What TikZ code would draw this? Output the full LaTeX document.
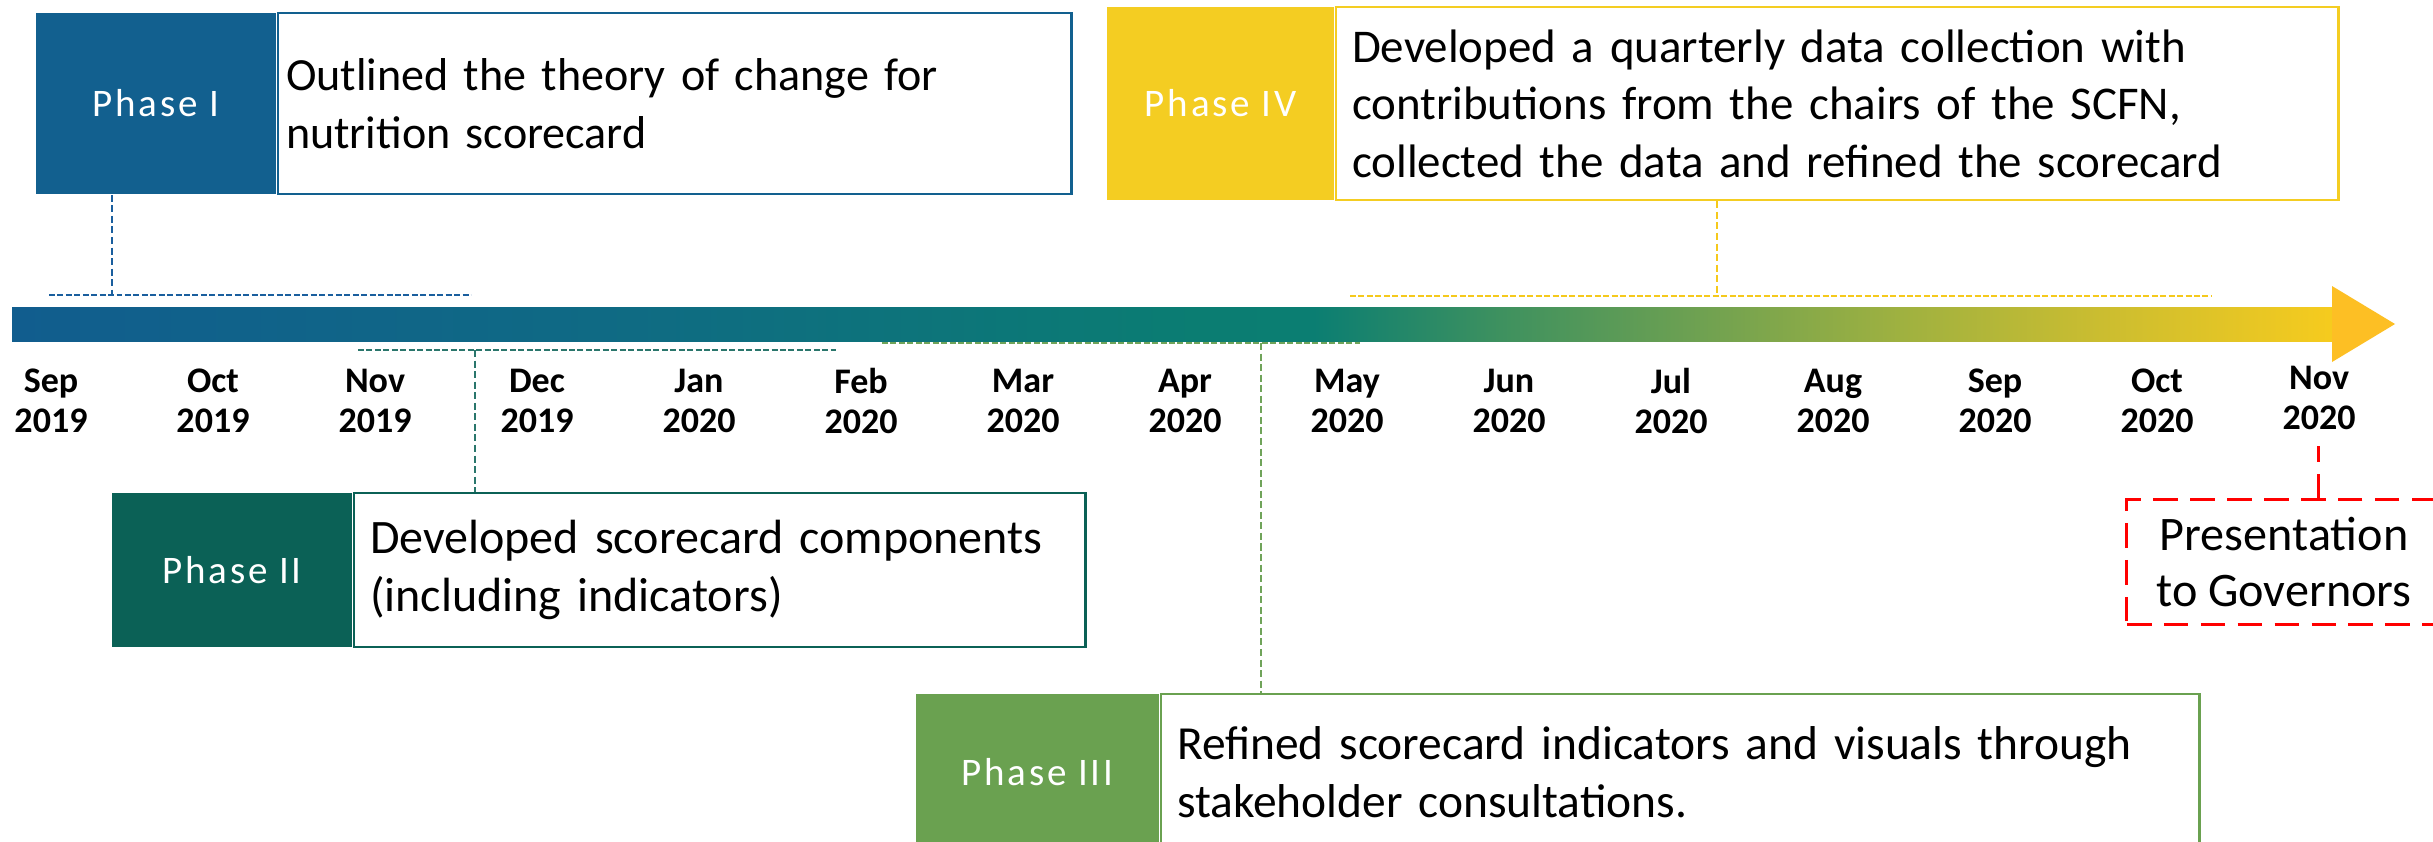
\documentclass[tikz,border=0pt]{standalone}
\usepackage{fontspec}
\setmainfont{Carlito}
\newfontfamily\tagfamily[LetterSpace=7]{Carlito}
\usetikzlibrary{positioning}

\definecolor{phIblue}{HTML}{12608F}
\definecolor{phIIteal}{HTML}{0B6156}
\definecolor{phIIIgreen}{HTML}{6AA150}
\definecolor{phIVyellow}{HTML}{F4CD22}
\definecolor{phIline}{HTML}{1A5F9E}
\definecolor{phIIline}{HTML}{2A766C}
\definecolor{phIIIline}{HTML}{70A45A}
\definecolor{phIVline}{HTML}{F5C91C}
\definecolor{govred}{HTML}{FF0000}
\definecolor{tipgold}{HTML}{FDBF24}
\definecolor{tlA}{HTML}{115D8E}
\definecolor{tlB}{HTML}{0F6A84}
\definecolor{tlC}{HTML}{0B7D72}
\definecolor{tlD}{HTML}{0B7E72}
\definecolor{tlE}{HTML}{3E915F}
\definecolor{tlF}{HTML}{6FA151}
\definecolor{tlG}{HTML}{9FB140}
\definecolor{tlH}{HTML}{CBBD30}
\definecolor{tlI}{HTML}{F6CB1E}

\pgfdeclarehorizontalshading{timeshade}{100bp}{color(0bp)=(tlA); color(25bp)=(tlA);
  color(37.68bp)=(tlB); color(50.61bp)=(tlC); color(53.05bp)=(tlD); color(57.08bp)=(tlE);
  color(61.4bp)=(tlF); color(65.71bp)=(tlG); color(70.02bp)=(tlH); color(75bp)=(tlI);
  color(100bp)=(tlI)}

\newcommand\tagfont{\tagfamily\fontsize{11.1}{13.3}\selectfont}
\newcommand\descfont[1][13.66]{\fontsize{#1}{16.36}\selectfont}
\newcommand\monthfont{\bfseries\fontsize{10.24}{11.38}\selectfont}
\newcommand\presfont{\fontsize{13.7}{16.2}\selectfont}

\tikzstyle{phasetag} = [rectangle, text=white, font=\tagfont, inner sep=0pt, minimum width=2.4cm]
\tikzstyle{phasetext} = [rectangle, fill=white, line width=0.7pt, font=\descfont, align=left, inner xsep=0.16cm, inner ysep=0pt]
\tikzstyle{spanline} = [line width=0.75pt, dash pattern=on 1.7pt off 0.7pt]
\tikzstyle{linkline} = [line width=0.55pt, dash pattern=on 2pt off 1pt]
\tikzstyle{monthlbl} = [font=\monthfont, align=center, inner sep=0pt]
\tikzstyle{govbox} = [rectangle, draw=govred, line width=0.85pt, dash pattern=on 7pt off 3.5pt, font=\presfont, align=center, minimum width=3.14cm, minimum height=1.24cm]

\begin{document}
\begin{tikzpicture}[x=0.01cm, y=-0.01cm, node distance=0pt]
\path[fill=white, use as bounding box] (0,0) rectangle (2433,841);

% timeline arrow
\shade[shading=timeshade] (12,307) rectangle (2332,341);
\fill[tipgold] (2332,286) -- (2395,324) -- (2332,362) -- cycle;

% months
\foreach \m/\yr [count=\i from 0] in {Sep/2019, Oct/2019, Nov/2019, Dec/2019, Jan/2020, Feb/2020, Mar/2020, Apr/2020, May/2020, Jun/2020, Jul/2020, Aug/2020, Sep/2020, Oct/2020}
  \node[monthlbl] (m\i) at (51+162*\i, 401) {\m\\\yr};
\node[monthlbl] (m14) at (2319, 398) {Nov\\2020};

% phase I
\node[phasetag, fill=phIblue, minimum height=1.81cm] (ph1) at (156,103.5) {Phase I};
\node[phasetext, draw=phIblue, font={\descfont[13.1]}, inner xsep=0.08cm, text width=7.77cm, minimum height=1.81cm, right=0pt of ph1] (tx1) {Outlined the theory of change for\\nutrition scorecard};
\coordinate (s1a) at (49,295);
\coordinate (s1b) at (471,295);
\coordinate (j1) at (112,295);
\draw[spanline, phIline] (s1a) -- (s1b);
\draw[linkline, phIline] (j1 |- ph1.south) -- (j1);

% phase II
\node[phasetag, fill=phIIteal, minimum height=1.54cm] (ph2) at (232,570) {Phase II};
\node[phasetext, draw=phIIteal, text width=6.99cm, minimum height=1.54cm, right=0pt of ph2] (tx2) {Developed scorecard components\\(including indicators)};
\coordinate (s2a) at (358,350);
\coordinate (s2b) at (836,350);
\coordinate (j2) at (475,350);
\draw[spanline, phIIline] (s2a) -- (s2b);
\draw[linkline, phIIline] (j2) -- (j2 |- tx2.north);

% phase III
\node[phasetag, fill=phIIIgreen, minimum width=2.43cm, minimum height=1.56cm] (ph3) at (1037.5,772) {Phase III};
\node[phasetext, draw=phIIIgreen, font={\descfont[13.5]}, text width=10.06cm, minimum height=1.56cm, right=0pt of ph3] (tx3) {Refined scorecard indicators and visuals through\\stakeholder consultations.};
\coordinate (s3a) at (882,343);
\coordinate (s3b) at (1360,343);
\coordinate (j3) at (1261,343);
\draw[spanline, phIIIline] (s3a) -- (s3b);
\draw[linkline, phIIIline] (j3) -- (j3 |- tx3.north);

% phase IV
\node[phasetag, fill=phIVyellow, minimum width=2.27cm, minimum height=1.93cm] (ph4) at (1220.5,103.5) {Phase IV};
\node[phasetext, draw=phIVyellow, font={\descfont[13.35]}, text width=9.70cm, minimum height=1.93cm, right=0pt of ph4] (tx4) {Developed a quarterly data collection with\\contributions from the chairs of the SCFN,\\collected the data and refined the scorecard};
\coordinate (s4a) at (1350,296);
\coordinate (s4b) at (2212,296);
\coordinate (j4) at (1717,296);
\draw[spanline, phIVline] (s4a) -- (s4b);
\draw[linkline, phIVline] (j4 |- tx4.south) -- (j4);

% presentation
\node[govbox] (gov) at (2284,562) {Presentation\\to Governors};
\coordinate (nov) at (2318,446);
\draw[govred, line width=0.85pt, dash pattern=on 7pt off 3.5pt] (nov |- gov.north) -- (nov);
\end{tikzpicture}
\end{document}
